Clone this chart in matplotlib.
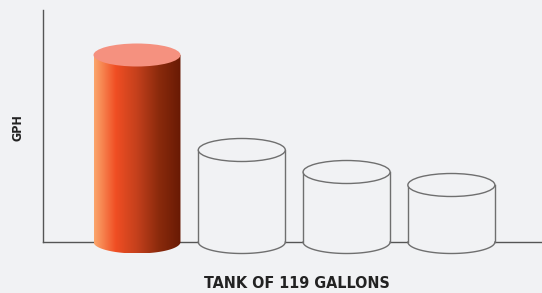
import numpy as np
import matplotlib
matplotlib.use("Agg")
import matplotlib.pyplot as plt
from matplotlib.patches import Ellipse, PathPatch
from matplotlib.path import Path
from matplotlib.colors import LinearSegmentedColormap

# data (arbitrary GPH units)
tanks = ["A", "B", "C", "D"]
gph = [187, 92, 70, 57]
highlight = [True, False, False, False]

x_label = "TANK OF 119 GALLONS"
y_label = "GPH"

BG = "#f1f2f4"
EDGE = "#6f6f6f"
TOP_FILL = "#f5917f"
grad = LinearSegmentedColormap.from_list(
    "tank", ["#fba66c", "#f04e23", "#c3401c", "#8a2a0c", "#681a04"])

W = 0.83    # cylinder width in x units
RY = 11.5   # half height of the end ellipses in y units


def body_path(x0, x1, h, ry):
    # rectangle with a rounded (half-ellipse) bottom
    t = np.linspace(np.pi, 2 * np.pi, 60)
    cx = (x0 + x1) / 2
    rx = (x1 - x0) / 2
    bx = cx + rx * np.cos(t)
    by = ry * np.sin(t)
    verts = [(x0, h)] + list(zip(bx, by)) + [(x1, h), (x0, h)]
    codes = [Path.MOVETO] + [Path.LINETO] * (len(verts) - 2) + [Path.CLOSEPOLY]
    return Path(verts, codes)


fig = plt.figure(figsize=(5.42, 2.93), dpi=100, facecolor=BG)
ax = fig.add_axes([43 / 542, 36 / 293, 499 / 542, 247 / 293])
ax.set_facecolor(BG)
ax.set_xlim(-0.897, 3.865)
ax.set_ylim(-15, 232)

for s in ["top", "right"]:
    ax.spines[s].set_visible(False)
ax.spines["bottom"].set_position(("data", 0))
ax.spines["left"].set_bounds(0, 232)
for s in ["bottom", "left"]:
    ax.spines[s].set_color("#555555")
    ax.spines[s].set_linewidth(1.0)
ax.set_xticks([])
ax.set_yticks([])

for i, (h, hi) in enumerate(zip(gph, highlight)):
    x0, x1 = i - W / 2, i + W / 2
    path = body_path(x0, x1, h, RY)
    if hi:
        patch = PathPatch(path, facecolor="none", edgecolor="none", zorder=3)
        ax.add_patch(patch)
        g = np.linspace(0, 1, 256).reshape(1, -1)
        im = ax.imshow(g, cmap=grad, aspect="auto", extent=[x0, x1, -RY, h],
                       zorder=3, interpolation="bicubic")
        im.set_clip_path(patch)
        ax.add_patch(Ellipse((i, h), W, 2 * RY, facecolor=TOP_FILL,
                             edgecolor="none", zorder=4))
    else:
        ax.add_patch(PathPatch(path, facecolor=BG, edgecolor="none", zorder=3))
        t = np.linspace(np.pi, 2 * np.pi, 80)
        ax.plot(i + W / 2 * np.cos(t), RY * np.sin(t), color=EDGE, lw=1.0, zorder=4)
        ax.plot([x0, x0], [0, h], color=EDGE, lw=1.0, zorder=4)
        ax.plot([x1, x1], [0, h], color=EDGE, lw=1.0, zorder=4)
        ax.add_patch(Ellipse((i, h), W, 2 * RY, facecolor=BG,
                             edgecolor=EDGE, lw=1.0, zorder=4))

fig.text(297 / 542, 1 - 284 / 293, x_label, ha="center", va="center",
         fontsize=11.5, fontweight="bold", color="#222222",
         family="DejaVu Sans", fontstretch="condensed")
fig.text(17.5 / 542, 1 - 128 / 293, y_label, ha="center", va="center",
         rotation=90, fontsize=9, fontweight="bold", color="#222222",
         family="DejaVu Sans", fontstretch="condensed")

fig.savefig("out.png", dpi=100, facecolor=BG)
